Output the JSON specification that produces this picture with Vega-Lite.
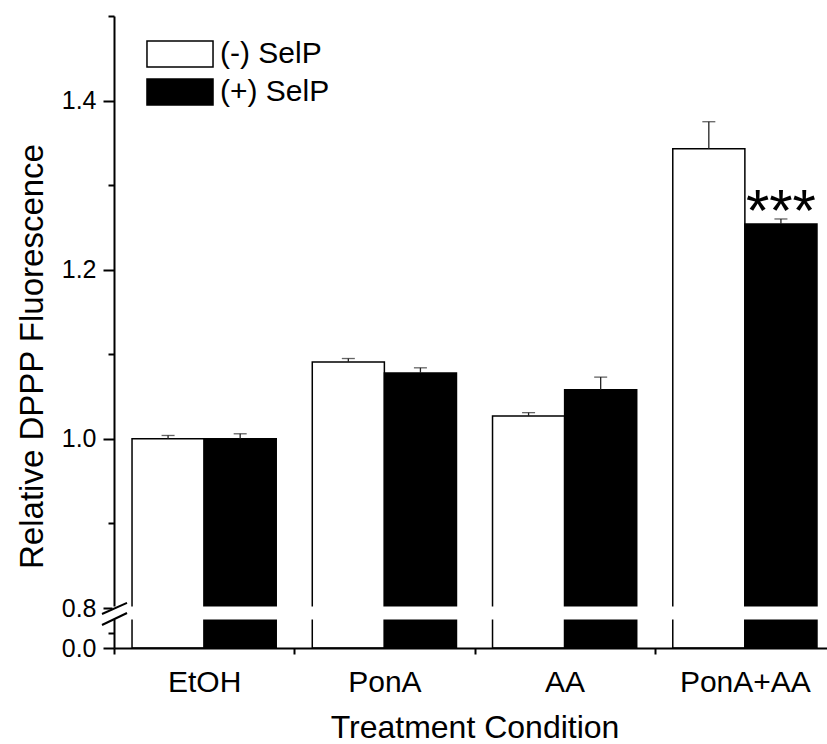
{
  "$schema": "https://vega.github.io/schema/vega-lite/v6.json",
  "width": 713,
  "height": 632,
  "autosize": {"type": "none"},
  "padding": {"left": 114, "top": 16, "right": 0, "bottom": 96},
  "background": "white",
  "data": {"values": [
    {"condition": "EtOH", "selp": "(-) SelP", "mean": 1.000, "upper": 1.004},
    {"condition": "EtOH", "selp": "(+) SelP", "mean": 1.000, "upper": 1.006},
    {"condition": "PonA", "selp": "(-) SelP", "mean": 1.091, "upper": 1.095},
    {"condition": "PonA", "selp": "(+) SelP", "mean": 1.078, "upper": 1.084},
    {"condition": "AA", "selp": "(-) SelP", "mean": 1.027, "upper": 1.031},
    {"condition": "AA", "selp": "(+) SelP", "mean": 1.058, "upper": 1.073},
    {"condition": "PonA+AA", "selp": "(-) SelP", "mean": 1.343, "upper": 1.375},
    {"condition": "PonA+AA", "selp": "(+) SelP", "mean": 1.254, "upper": 1.260}
  ]},
  "layer": [
    {
      "mark": {"type": "bar", "stroke": "black", "strokeWidth": 1.5},
      "encoding": {
        "x": {
          "field": "condition", "type": "nominal",
          "sort": ["EtOH", "PonA", "AA", "PonA+AA"],
          "scale": {"range": [0, 721], "paddingInner": 0, "paddingOuter": 0},
          "axis": {
            "title": "Treatment Condition", "titleFontSize": 32, "titleY": 89,
            "titleBaseline": "alphabetic", "labelFontSize": 30, "labelPadding": 37,
            "labelBaseline": "alphabetic", "tickBand": "extent", "tickSize": 6,
            "tickWidth": 2, "domainWidth": 2, "labelAngle": 0, "zindex": 1
          }
        },
        "xOffset": {
          "field": "selp", "type": "nominal",
          "scale": {"domain": ["(-) SelP", "(+) SelP"], "paddingInner": 0, "paddingOuter": 0.25}
        },
        "y": {
          "field": "mean", "type": "quantitative",
          "scale": {"domain": [0, 0.1, 0.8, 1.5], "range": [632, 602, 592, 0], "nice": false, "zero": false},
          "axis": {
            "orient": "left", "values": [0, 0.8, 1.0, 1.2, 1.4], "format": ".1f",
            "tickSize": 11, "tickWidth": 2, "domainWidth": 2, "labelFontSize": 25,
            "labelPadding": 7, "labelOverlap": false,
            "title": "Relative DPPP Fluorescence", "titleFontSize": 33,
            "titleX": -72, "titleY": 340, "titleAngle": -90,
            "titleBaseline": "alphabetic", "titleAlign": "center"
          }
        },
        "color": {
          "field": "selp", "type": "nominal",
          "scale": {"domain": ["(-) SelP", "(+) SelP"], "range": ["white", "black"]},
          "legend": {
            "title": null, "orient": "none", "legendX": 51, "legendY": 23,
            "symbolType": "M-2.54,-1H2.54V1H-2.54Z", "symbolSize": 676,
            "symbolStrokeColor": "black", "symbolStrokeWidth": 1.5, "symbolOpacity": 1,
            "labelFontSize": 30, "labelFont": "Liberation Sans", "labelColor": "black",
            "labelOffset": 25, "rowPadding": 6, "padding": 0, "labelLimit": 400
          }
        }
      }
    },
    {
      "mark": {"type": "rule", "color": "#222", "strokeWidth": 1.3},
      "encoding": {
        "x": {"field": "condition", "type": "nominal", "sort": ["EtOH", "PonA", "AA", "PonA+AA"]},
        "xOffset": {"field": "selp", "type": "nominal"},
        "y": {
          "field": "mean", "type": "quantitative",
          "axis": {"orient": "left", "values": [0.05, 0.9, 1.1, 1.3, 1.5], "tickSize": 6, "tickWidth": 2, "labels": false, "domain": false, "title": null}
        },
        "y2": {"field": "upper"}
      }
    },
    {
      "mark": {"type": "tick", "color": "#222", "size": 13, "thickness": 1.3},
      "encoding": {
        "x": {"field": "condition", "type": "nominal", "sort": ["EtOH", "PonA", "AA", "PonA+AA"]},
        "xOffset": {"field": "selp", "type": "nominal"},
        "y": {"field": "upper", "type": "quantitative", "axis": null}
      }
    },
    {
      "transform": [{"filter": "datum.condition === 'PonA+AA' && datum.selp === '(+) SelP'"}],
      "mark": {"type": "text", "text": "***", "fontSize": 60, "dy": 7, "baseline": "alphabetic", "align": "center", "font": "Liberation Sans", "color": "black"},
      "encoding": {
        "x": {"field": "condition", "type": "nominal", "sort": ["EtOH", "PonA", "AA", "PonA+AA"]},
        "xOffset": {"field": "selp", "type": "nominal"},
        "y": {"field": "mean", "type": "quantitative", "axis": null}
      }
    },
    {
      "data": {"values": [{}]},
      "mark": {"type": "rect", "fill": "white", "stroke": "white", "strokeWidth": 3},
      "encoding": {
        "y": {"datum": 0.1, "type": "quantitative", "axis": null},
        "y2": {"datum": 0.797}
      }
    },
    {
      "data": {"values": [{}]},
      "mark": {"type": "rule", "color": "black", "strokeWidth": 2, "xOffset": -12, "x2Offset": 13},
      "encoding": {
        "x": {"datum": "EtOH", "type": "nominal", "bandPosition": 0},
        "x2": {"datum": "EtOH", "bandPosition": 0},
        "y": {"datum": 0.38, "type": "quantitative", "axis": null},
        "y2": {"datum": 0.806}
      }
    },
    {
      "data": {"values": [{}]},
      "mark": {"type": "rule", "color": "black", "strokeWidth": 2, "xOffset": -12, "x2Offset": 13},
      "encoding": {
        "x": {"datum": "EtOH", "type": "nominal", "bandPosition": 0},
        "x2": {"datum": "EtOH", "bandPosition": 0},
        "y": {"datum": 0.0767, "type": "quantitative", "axis": null},
        "y2": {"datum": 0.45}
      }
    }
  ],
  "resolve": {"axis": {"y": "independent"}},
  "config": {
    "font": "Liberation Sans",
    "view": {"stroke": null},
    "axis": {
      "grid": false, "domainColor": "black", "tickColor": "black",
      "labelColor": "black", "titleColor": "black", "titleFontWeight": "normal",
      "labelFont": "Liberation Sans", "titleFont": "Liberation Sans"
    }
  }
}
